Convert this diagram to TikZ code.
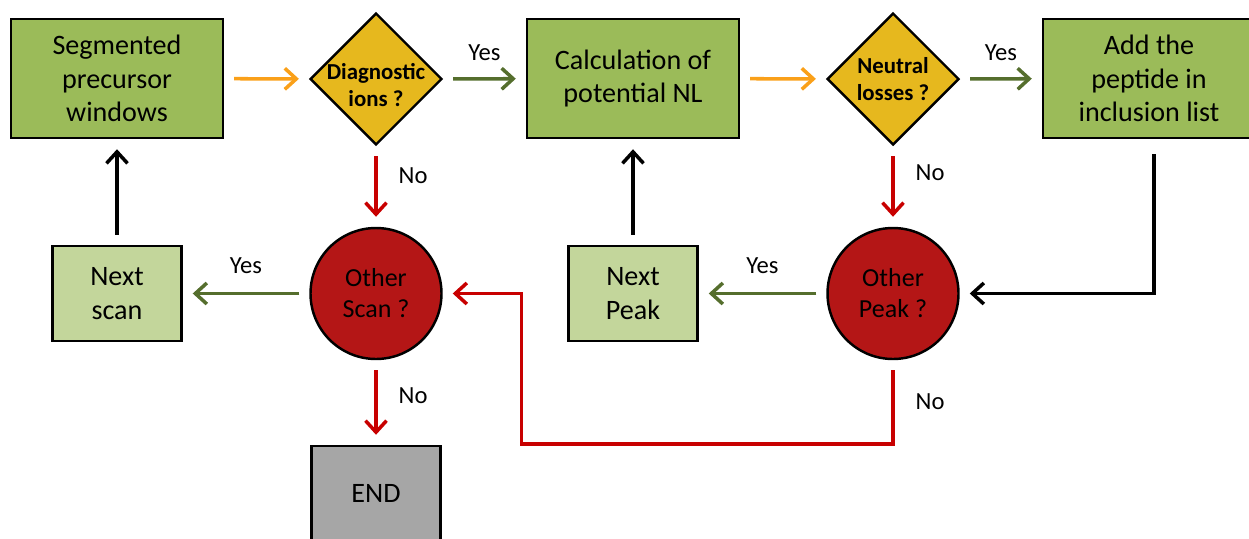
\documentclass[tikz,border=0pt]{standalone}
\usepackage{fontspec}
\setmainfont{Carlito}
\usepackage{tikz}
\usetikzlibrary{shapes.geometric,arrows.meta}

\definecolor{boxgreen}{RGB}{155,187,89}
\definecolor{lightgreen}{RGB}{195,214,155}
\definecolor{gold}{RGB}{230,184,30}
\definecolor{darkred}{RGB}{180,22,22}
\definecolor{endgray}{RGB}{166,166,166}
\definecolor{orangearrow}{RGB}{250,160,25}
\definecolor{olivearrow}{RGB}{85,110,45}
\definecolor{redarrow}{RGB}{200,0,0}

\begin{document}
\begin{tikzpicture}[
        process/.style={draw, line width=1.4pt, fill=boxgreen, minimum width=4.24cm, minimum height=2.38cm, align=center, font=\fontsize{16}{19}\selectfont},
        small/.style={process, fill=lightgreen, minimum width=2.58cm, minimum height=1.9cm},
        decision/.style={draw, diamond, line width=1.4pt, fill=gold, minimum width=2.64cm, minimum height=2.64cm, inner sep=0pt},
        qtext/.style={align=center, font=\fontsize{13}{15.4}\selectfont\bfseries},
        check/.style={draw, circle, line width=1.4pt, fill=darkred, minimum size=2.62cm, align=center, font=\fontsize{14.8}{17.6}\selectfont},
        flow/.style={line width=2pt, -{Straight Barb[length=2.3mm,width=4.2mm]}, shorten <=0.2cm, shorten >=0.2cm},
        lbl/.style={font=\fontsize{14}{16}\selectfont}
    ]
        \useasboundingbox (0,0) rectangle (24.98,-10.76);

        % top row
        \node[process] (seg) at (2.34,-1.57) {Segmented\\precursor\\windows};
        \node[decision, label={[qtext, yshift=-0.12cm]center:Diagnostic\\ions ?}] (diag) at (7.52,-1.58) {};
        \node[process] (calc) at (12.66,-1.57) {Calculation of\\potential NL};
        \node[decision, label={[qtext]center:Neutral\\losses ?}] (neut) at (17.86,-1.58) {};
        \node[process] (add) at (22.98,-1.57) {Add the\\peptide in\\inclusion list};

        % second row
        \node[small] (nscan) at (2.34,-5.87) {Next\\scan};
        \node[check] (oscan) at (7.52,-5.87) {Other\\Scan ?};
        \node[small] (npeak) at (12.66,-5.87) {Next\\Peak};
        \node[check] (opeak) at (17.86,-5.87) {Other\\Peak ?};
        \node[small, fill=endgray] (end) at (7.52,-9.87) {END};

        \coordinate (loop) at (10.43,-8.88);

        \draw[flow, orangearrow] (seg) -- (diag);
        \draw[flow, olivearrow] (diag) -- (calc) node[midway, above=0.2cm, lbl, black] {Yes};
        \draw[flow, orangearrow] (calc) -- (neut);
        \draw[flow, olivearrow] (neut) -- (add) node[midway, above=0.2cm, lbl, black] {Yes};

        \draw[flow, redarrow] (diag) -- (oscan) node[pos=0.37, right=0.3cm, lbl, black] {No};
        \draw[flow, redarrow] (neut) -- (opeak) node[pos=0.33, right=0.3cm, lbl, black] {No};
        \draw[flow, redarrow] (oscan) -- (end) node[pos=0.42, right=0.3cm, lbl, black] {No};

        \draw[flow, olivearrow] (oscan) -- (nscan) node[midway, above=0.25cm, lbl, black] {Yes};
        \draw[flow, olivearrow] (opeak) -- (npeak) node[midway, above=0.25cm, lbl, black] {Yes};

        \draw[flow] (nscan) -- (seg);
        \draw[flow] (npeak) -- (calc);
        \draw[flow, shorten <=0.3cm] ([xshift=0.1cm]add.south) |- (opeak.east);

        % no other peak: back to the scan test
        \draw[flow, redarrow] (opeak.south) |- node[pos=0.25, right=0.3cm, lbl, black] {No} (loop) |- (oscan.east);
    \end{tikzpicture}
\end{document}
